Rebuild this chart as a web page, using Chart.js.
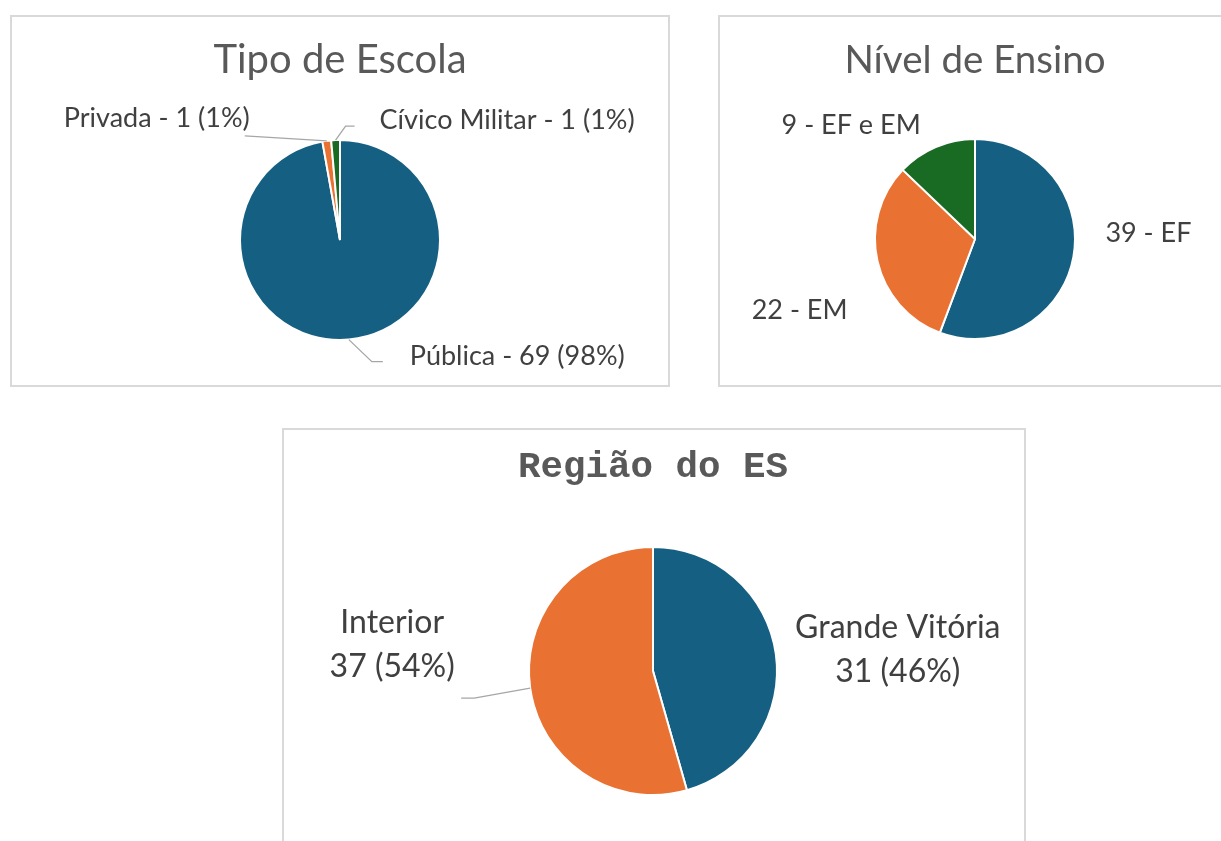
<!DOCTYPE html>
<html>
<head>
<meta charset="utf-8">
<script src="https://cdn.jsdelivr.net/npm/chart.js@4.4.1/dist/chart.umd.min.js"></script>
<style>
    body { margin: 0; background: #ffffff; width: 1221px; height: 841px; overflow: hidden; position: relative; }
    .box { position: absolute; box-sizing: border-box; border: 2px solid #d9d9d9; background: #fff; }
    .box canvas { display: block; }
</style>
</head>
<body>
<div class="box" style="left:10px; top:15px; width:660px; height:372px;">
    <canvas id="tipoChart" width="656" height="368"></canvas>
</div>
<div class="box" style="left:718px; top:15px; width:520px; height:372px;">
    <canvas id="nivelChart" width="516" height="368"></canvas>
</div>
<div class="box" style="left:282px; top:428px; width:744px; height:440px;">
    <canvas id="regiaoChart" width="740" height="436"></canvas>
</div>
<script>
// dados
const tipoCategorias = ['Pública', 'Privada', 'Cívico Militar'];
const tipoValores = [69, 1, 1];
const tipoPercentuais = ['98%', '1%', '1%'];

const nivelCategorias = ['EF', 'EM', 'EF e EM'];
const nivelValores = [39, 22, 9];

const regiaoCategorias = ['Grande Vitória', 'Interior'];
const regiaoValores = [31, 37];
const regiaoPercentuais = ['46%', '54%'];

const cores = ['#156082', '#e97132', '#196b24'];
const fonteBase = 'Lato, "Noto Sans", sans-serif';

// desenha os rótulos de cada fatia com linha guia opcional
const sliceLabelsPlugin = {
    id: 'sliceLabels',
    afterDatasetsDraw(chart, args, opts) {
        const ctx = chart.ctx;
        const arcs = chart.getDatasetMeta(0).data;
        ctx.save();
        arcs.forEach((arc, i) => {
            const p = arc.getProps(['x', 'y', 'startAngle', 'endAngle', 'outerRadius'], true);
            const mid = (p.startAngle + p.endAngle) / 2;
            const x0 = p.x + Math.cos(mid) * p.outerRadius;
            const y0 = p.y + Math.sin(mid) * p.outerRadius;

            const guia = opts.leaders ? opts.leaders[i] : null;
            if (guia) {
                ctx.strokeStyle = '#a6a6a6';
                ctx.lineWidth = 1.3;
                ctx.beginPath();
                ctx.moveTo(x0, y0);
                guia.forEach(pt => ctx.lineTo(x0 + pt[0], y0 + pt[1]));
                ctx.stroke();
            }

            const off = opts.offsets[i];
            const linhas = opts.texts[i];
            ctx.fillStyle = '#404040';
            ctx.font = opts.font;
            ctx.textAlign = opts.align[i];
            ctx.textBaseline = 'middle';
            linhas.forEach((txt, k) => {
                ctx.fillText(txt, x0 + off[0], y0 + off[1] + k * opts.lineHeight);
            });
        });
        ctx.restore();
    }
};

function createPie(id, labels, values, title, titleFont, padding, titlePadding, labelOpts) {
    const ctx = document.getElementById(id).getContext('2d');
    return new Chart(ctx, {
        type: 'pie',
        data: {
            labels: labels,
            datasets: [{
                data: values,
                backgroundColor: cores.slice(0, values.length),
                borderColor: '#ffffff',
                borderWidth: 2
            }]
        },
        options: {
            responsive: false,
            animation: false,
            layout: { padding: padding },
            plugins: {
                legend: { display: false },
                tooltip: { enabled: false },
                title: {
                    display: true,
                    text: title,
                    color: '#595959',
                    font: titleFont,
                    padding: titlePadding
                },
                sliceLabels: labelOpts
            }
        },
        plugins: [sliceLabelsPlugin]
    });
}

createPie('tipoChart', tipoCategorias, tipoValores, 'Tipo de Escola',
    { family: fonteBase, size: 40, weight: 'normal', lineHeight: 1.2 },
    { top: 0, bottom: 44, left: 100, right: 100 },
    { top: 19, bottom: 55 },
    {
        texts: tipoCategorias.map((c, i) => [c + ' - ' + tipoValores[i] + ' (' + tipoPercentuais[i] + ')']),
        offsets: [[61, 17], [-77, -23], [44, -20]],
        align: ['left', 'right', 'left'],
        leaders: [[[23, 22], [34, 22]], [[-82, -5]], [[10, -14], [19, -14]]],
        font: '27px ' + fonteBase,
        lineHeight: 0
    });

createPie('nivelChart', nivelCategorias, nivelValores, 'Nível de Ensino',
    { family: fonteBase, size: 38.5, weight: 'normal', lineHeight: 1.2 },
    { top: 0, bottom: 45, left: 100, right: 106 },
    { top: 20, bottom: 54.8 },
    {
        texts: nivelCategorias.map((c, i) => [nivelValores[i] + ' - ' + c]),
        offsets: [[32, -24], [-30, 49], [-15, -22]],
        align: ['left', 'right', 'right'],
        leaders: null,
        font: '27px ' + fonteBase,
        lineHeight: 0
    });

createPie('regiaoChart', regiaoCategorias, regiaoValores, 'Região do ES',
    { family: '"Liberation Mono", "Courier New", monospace', size: 37.5, weight: 'bold', lineHeight: 1.2 },
    { top: 0, bottom: 70, left: 150, right: 152 },
    { top: 15.5, bottom: 55.5 },
    {
        texts: regiaoCategorias.map((c, i) => [c, regiaoValores[i] + ' (' + regiaoPercentuais[i] + ')']),
        offsets: [[122, -26], [-138, -65]],
        align: ['center', 'center'],
        leaders: [null, [[-56, 10], [-69, 10]]],
        font: '32px ' + fonteBase,
        lineHeight: 44
    });
</script>
</body>
</html>
